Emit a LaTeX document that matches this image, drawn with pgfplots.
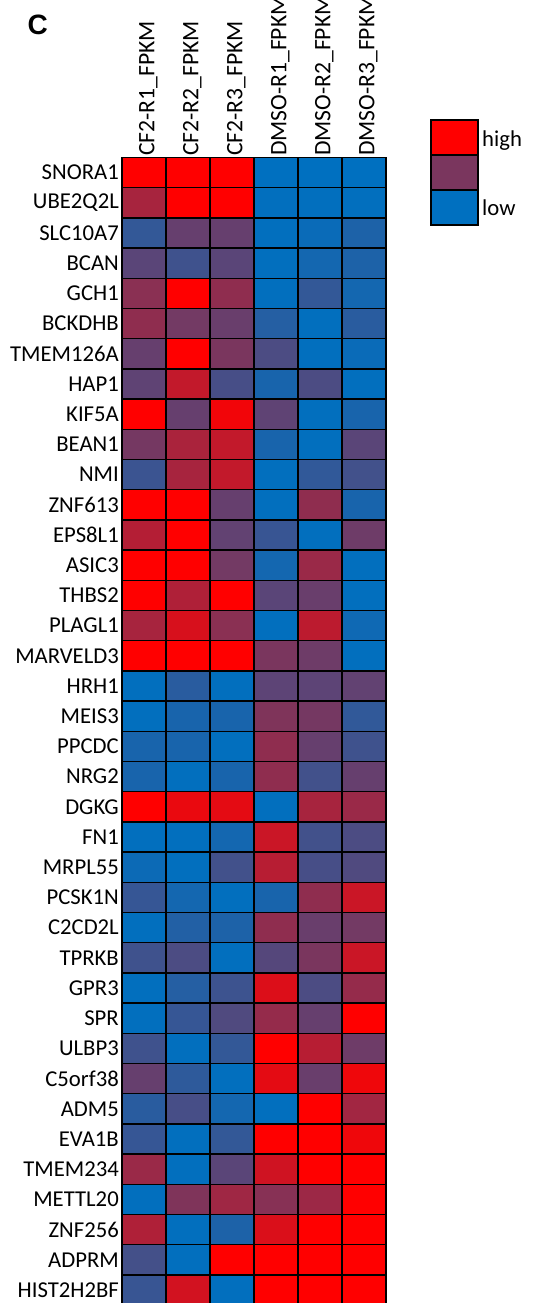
\documentclass[border=0pt]{standalone}
\usepackage{pgfplots}
\pgfplotsset{compat=1.18}
\usepackage{fontspec}
\setmainfont{Carlito}
\newfontfamily\arialb{Liberation Sans}
\definecolor{hmred}{RGB}{255,0,0}
\definecolor{hmpurple}{RGB}{122,54,94}
\definecolor{hmblue}{RGB}{0,112,192}
\begin{document}
\begin{tikzpicture}[x=1pt,y=1pt]
\useasboundingbox (0,0) rectangle (540,1303);
\begin{axis}[
 at={(122pt,-2.1pt)}, anchor=south west,
 scale only axis, width=264pt, height=1147.6pt,
 xmin=-0.5, xmax=5.5, ymin=-0.5, ymax=37.5, y dir=reverse,
 enlargelimits=false,
 colormap={rbp}{rgb255=(0,112,192) rgb255=(122,54,94) rgb255=(255,0,0)},
 point meta min=0, point meta max=1,
 xtick={0,...,5},
 xticklabels={CF2-R1\_FPKM,CF2-R2\_FPKM,CF2-R3\_FPKM,DMSO-R1\_FPKM,DMSO-R2\_FPKM,DMSO-R3\_FPKM},
 xticklabel pos=upper,
 ytick={0,...,37},
 yticklabels={SNORA1,UBE2Q2L,SLC10A7,BCAN,GCH1,BCKDHB,TMEM126A,HAP1,KIF5A,BEAN1,NMI,ZNF613,EPS8L1,ASIC3,THBS2,PLAGL1,MARVELD3,HRH1,MEIS3,PPCDC,NRG2,DGKG,FN1,MRPL55,PCSK1N,C2CD2L,TPRKB,GPR3,SPR,ULBP3,C5orf38,ADM5,EVA1B,TMEM234,METTL20,ZNF256,ADPRM,HIST2H2BF},
 major tick length=0pt, minor tick length=0pt,
 minor xtick={-0.5,0.5,...,5.5}, minor ytick={-0.5,0.5,...,37.5},
 xminorgrids, yminorgrids,
 minor grid style={black, line width=1.4pt},
 axis line style={black, line width=1.4pt},
 axis on top,
 yticklabel style={anchor=east, inner sep=3pt, font=\fontsize{22.7}{24}\selectfont},
 xticklabel style={rotate=90, anchor=west, inner sep=1.5pt, text height=21pt, text depth=0pt, font=\fontsize{23.6}{25}\selectfont},
]
\addplot[matrix plot*, mesh/cols=6, mesh/rows=38, point meta=explicit] coordinates {
(0,0)[1] (1,0)[1] (2,0)[1] (3,0)[0] (4,0)[0] (5,0)[0]
(0,1)[0.67] (1,1)[1] (2,1)[1] (3,1)[0.01] (4,1)[0.01] (5,1)[0.01]
(0,2)[0.21] (1,2)[0.42] (2,2)[0.42] (3,2)[0.01] (4,2)[0.04] (5,2)[0.12]
(0,3)[0.37] (1,3)[0.26] (2,3)[0.37] (3,3)[0.01] (4,3)[0.08] (5,3)[0.12]
(0,4)[0.56] (1,4)[1] (2,4)[0.58] (3,4)[0.01] (4,4)[0.21] (5,4)[0.08]
(0,5)[0.58] (1,5)[0.47] (2,5)[0.43] (3,5)[0.15] (4,5)[0.01] (5,5)[0.17]
(0,6)[0.42] (1,6)[1] (2,6)[0.5] (3,6)[0.31] (4,6)[0.01] (5,6)[0.04]
(0,7)[0.39] (1,7)[0.77] (2,7)[0.29] (3,7)[0.1] (4,7)[0.31] (5,7)[0.01]
(0,8)[1] (1,8)[0.42] (2,8)[0.95] (3,8)[0.39] (4,8)[0.01] (5,8)[0.1]
(0,9)[0.48] (1,9)[0.68] (2,9)[0.77] (3,9)[0.1] (4,9)[0.01] (5,9)[0.37]
(0,10)[0.24] (1,10)[0.67] (2,10)[0.77] (3,10)[0.01] (4,10)[0.2] (5,10)[0.27]
(0,11)[1] (1,11)[1] (2,11)[0.42] (3,11)[0.01] (4,11)[0.58] (5,11)[0.1]
(0,12)[0.72] (1,12)[1] (2,12)[0.4] (3,12)[0.23] (4,12)[0.01] (5,12)[0.45]
(0,13)[1] (1,13)[1] (2,13)[0.47] (3,13)[0.08] (4,13)[0.62] (5,13)[0.01]
(0,14)[1] (1,14)[0.7] (2,14)[1] (3,14)[0.37] (4,14)[0.43] (5,14)[0.01]
(0,15)[0.67] (1,15)[0.85] (2,15)[0.56] (3,15)[0.01] (4,15)[0.75] (5,15)[0.06]
(0,16)[1] (1,16)[1] (2,16)[1] (3,16)[0.5] (4,16)[0.45] (5,16)[0.01]
(0,17)[0.01] (1,17)[0.17] (2,17)[0.01] (3,17)[0.38] (4,17)[0.38] (5,17)[0.4]
(0,18)[0.01] (1,18)[0.1] (2,18)[0.1] (3,18)[0.52] (4,18)[0.48] (5,18)[0.2]
(0,19)[0.1] (1,19)[0.1] (2,19)[0.01] (3,19)[0.58] (4,19)[0.42] (5,19)[0.26]
(0,20)[0.1] (1,20)[0.01] (2,20)[0.1] (3,20)[0.58] (4,20)[0.27] (5,20)[0.42]
(0,21)[1] (1,21)[0.92] (2,21)[0.9] (3,21)[0.01] (4,21)[0.67] (5,21)[0.62]
(0,22)[0.01] (1,22)[0.01] (2,22)[0.08] (3,22)[0.8] (4,22)[0.27] (5,22)[0.31]
(0,23)[0.05] (1,23)[0.01] (2,23)[0.27] (3,23)[0.73] (4,23)[0.29] (5,23)[0.33]
(0,24)[0.22] (1,24)[0.08] (2,24)[0.01] (3,24)[0.1] (4,24)[0.58] (5,24)[0.8]
(0,25)[0.01] (1,25)[0.14] (2,25)[0.12] (3,25)[0.58] (4,25)[0.43] (5,25)[0.47]
(0,26)[0.26] (1,26)[0.31] (2,26)[0.01] (3,26)[0.35] (4,26)[0.5] (5,26)[0.8]
(0,27)[0.01] (1,27)[0.15] (2,27)[0.25] (3,27)[0.87] (4,27)[0.31] (5,27)[0.6]
(0,28)[0.01] (1,28)[0.22] (2,28)[0.33] (3,28)[0.6] (4,28)[0.42] (5,28)[1]
(0,29)[0.26] (1,29)[0.01] (2,29)[0.21] (3,29)[1] (4,29)[0.73] (5,29)[0.45]
(0,30)[0.42] (1,30)[0.19] (2,30)[0.01] (3,30)[0.9] (4,30)[0.43] (5,30)[0.94]
(0,31)[0.17] (1,31)[0.29] (2,31)[0.08] (3,31)[0.01] (4,31)[1] (5,31)[0.65]
(0,32)[0.22] (1,32)[0.01] (2,32)[0.21] (3,32)[1] (4,32)[1] (5,32)[0.94]
(0,33)[0.62] (1,33)[0.01] (2,33)[0.37] (3,33)[0.82] (4,33)[1] (5,33)[1]
(0,34)[0.01] (1,34)[0.52] (2,34)[0.64] (3,34)[0.55] (4,34)[0.63] (5,34)[1]
(0,35)[0.7] (1,35)[0.01] (2,35)[0.12] (3,35)[0.86] (4,35)[1] (5,35)[1]
(0,36)[0.28] (1,36)[0.01] (2,36)[1] (3,36)[1] (4,36)[1] (5,36)[1]
(0,37)[0.23] (1,37)[0.83] (2,37)[0.01] (3,37)[1] (4,37)[1] (5,37)[1]
};
\end{axis}
% legend
\draw[black, line width=1.4pt, fill=hmred] (431,1148) rectangle (478,1183);
\draw[black, line width=1.4pt, fill=hmpurple] (431,1113) rectangle (478,1148);
\draw[black, line width=1.4pt, fill=hmblue] (431,1078) rectangle (478,1113);
\node[anchor=base west, inner sep=0pt, font=\fontsize{22.7}{24}\selectfont] at (482,1156) {high};
\node[anchor=base west, inner sep=0pt, font=\fontsize{22.7}{24}\selectfont] at (482,1087) {low};
\node[anchor=base west, inner sep=0pt, font=\arialb\bfseries\fontsize{28}{30}\selectfont] at (27.5,1268) {C};
\end{tikzpicture}
\end{document}
